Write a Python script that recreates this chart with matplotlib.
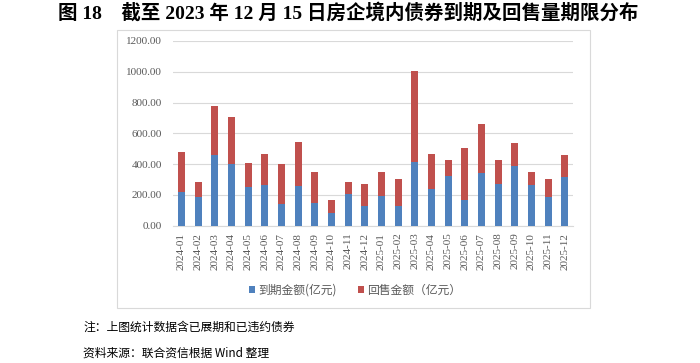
import matplotlib
matplotlib.use("Agg")
import matplotlib.pyplot as plt
from matplotlib.patches import Rectangle
import numpy as np

categories = ["2024-01", "2024-02", "2024-03", "2024-04", "2024-05", "2024-06",
              "2024-07", "2024-08", "2024-09", "2024-10", "2024-11", "2024-12",
              "2025-01", "2025-02", "2025-03", "2025-04", "2025-05", "2025-06",
              "2025-07", "2025-08", "2025-09", "2025-10", "2025-11", "2025-12"]
maturity = [219, 186, 457, 403, 249, 262, 139, 258, 145, 84, 208, 130,
            195, 128, 414, 238, 323, 167, 342, 273, 388, 264, 184, 318]
totals = [479, 286, 778, 704, 405, 468, 401, 544, 351, 165, 284, 269,
          351, 305, 1002, 464, 427, 503, 663, 427, 537, 347, 305, 459]
putback = [t - m for t, m in zip(totals, maturity)]
yticks = [0, 200, 400, 600, 800, 1000, 1200]

title = "图 18　截至 2023 年 12 月 15 日房企境内债券到期及回售量期限分布"
label_m = "到期金额(亿元)"
label_p = "回售金额（亿元）"
note1 = "注：上图统计数据含已展期和已违约债券"
note2 = "资料来源：联合资信根据 Wind 整理"

SERIF = ["Liberation Serif", "Noto Sans CJK SC"]
CJK = ["Noto Sans CJK SC", "DejaVu Sans"]
BLUE = "#4F81BD"
RED = "#C0504D"
GRAY = "#595959"

fig = plt.figure(figsize=(7.0, 3.63), dpi=100)
W, H = 700, 363

# chart frame
fig.patches.append(Rectangle((117 / W, 1 - 308 / H), (590 - 117) / W, (308 - 30) / H,
                             transform=fig.transFigure, fill=False,
                             edgecolor="#D9D9D9", linewidth=0.8))

ax = fig.add_axes([173 / W, 1 - 225.7 / H, (573 - 173) / W, (225.7 - 41) / H])
x = np.arange(len(categories))
ax.bar(x, maturity, width=0.42, color=BLUE, label=label_m, zorder=3)
ax.bar(x, putback, width=0.42, bottom=maturity, color=RED, label=label_p, zorder=3)

ax.set_xlim(-0.5, len(categories) - 0.5)
ax.set_ylim(0, 1200)
ax.set_yticks(yticks)
ax.set_yticklabels([f"{v:.2f}" for v in yticks], family=SERIF, fontsize=8, color=GRAY)
ax.set_xticks(x)
ax.set_xticklabels(categories, rotation=90, family=SERIF, fontsize=8, color=GRAY)
ax.tick_params(axis="both", length=0)
ax.tick_params(axis="y", pad=8)
ax.tick_params(axis="x", pad=5)
ax.grid(axis="y", color="#D9D9D9", linewidth=0.8, zorder=0)
for s in ["top", "right", "left"]:
    ax.spines[s].set_visible(False)
ax.spines["bottom"].set_color("#D9D9D9")
ax.spines["bottom"].set_linewidth(0.8)

leg = fig.legend(loc="center", bbox_to_anchor=(355 / W, 1 - 290 / H), ncol=2,
                 frameon=False, prop={"family": CJK, "size": 8.5},
                 handlelength=0.5, handleheight=0.5, handletextpad=0.3,
                 columnspacing=1.8)
for t in leg.get_texts():
    t.set_color(GRAY)

fig.text(348 / W, 1 - 13 / H, title, ha="center", va="center", fontsize=14,
         fontweight="bold", family=SERIF, color="black")
fig.text(83 / W, 1 - 327 / H, note1, ha="left", va="center", fontsize=8.5,
         family=CJK, color="black")
fig.text(83 / W, 1 - 353 / H, note2, ha="left", va="center", fontsize=8.5,
         family=CJK, color="black")

fig.savefig("out.png", dpi=100)
